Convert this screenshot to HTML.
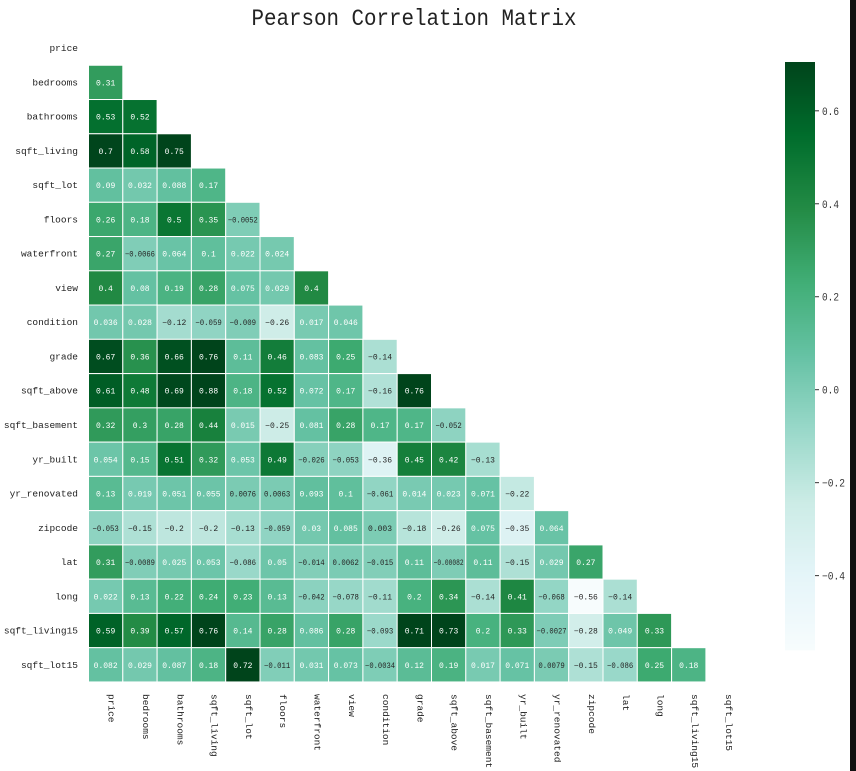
<!DOCTYPE html>
<html><head><meta charset="utf-8"><style>
html,body{margin:0;padding:0;background:#fff;width:856px;height:771px;overflow:hidden}
text{font-family:"Liberation Mono","DejaVu Sans Mono",monospace}
</style></head><body>
<svg id="chart" width="856" height="771" xmlns="http://www.w3.org/2000/svg">
<rect x="850" y="0" width="6" height="771" fill="#111"/>
<text x="414" y="25" text-anchor="middle" font-size="23" textLength="325" lengthAdjust="spacingAndGlyphs" fill="#222">Pearson Correlation Matrix</text>
<g id="cells"></g><g id="labels"></g><g id="cbar"></g>
</svg>
<script>
const categories=["price","bedrooms","bathrooms","sqft_living","sqft_lot","floors","waterfront","view","condition","grade","sqft_above","sqft_basement","yr_built","yr_renovated","zipcode","lat","long","sqft_living15","sqft_lot15"];
const lowerValues=[
[],
[0.31],
[0.53,0.52],
[0.7,0.58,0.75],
[0.09,0.032,0.088,0.17],
[0.26,0.18,0.5,0.35,-0.0052],
[0.27,-0.0066,0.064,0.1,0.022,0.024],
[0.4,0.08,0.19,0.28,0.075,0.029,0.4],
[0.036,0.028,-0.12,-0.059,-0.009,-0.26,0.017,0.046],
[0.67,0.36,0.66,0.76,0.11,0.46,0.083,0.25,-0.14],
[0.61,0.48,0.69,0.88,0.18,0.52,0.072,0.17,-0.16,0.76],
[0.32,0.3,0.28,0.44,0.015,-0.25,0.081,0.28,0.17,0.17,-0.052],
[0.054,0.15,0.51,0.32,0.053,0.49,-0.026,-0.053,-0.36,0.45,0.42,-0.13],
[0.13,0.019,0.051,0.055,0.0076,0.0063,0.093,0.1,-0.061,0.014,0.023,0.071,-0.22],
[-0.053,-0.15,-0.2,-0.2,-0.13,-0.059,0.03,0.085,0.003,-0.18,-0.26,0.075,-0.35,0.064],
[0.31,-0.0089,0.025,0.053,-0.086,0.05,-0.014,0.0062,-0.015,0.11,-0.00082,0.11,-0.15,0.029,0.27],
[0.022,0.13,0.22,0.24,0.23,0.13,-0.042,-0.078,-0.11,0.2,0.34,-0.14,0.41,-0.068,-0.56,-0.14],
[0.59,0.39,0.57,0.76,0.14,0.28,0.086,0.28,-0.093,0.71,0.73,0.2,0.33,-0.0027,-0.28,0.049,0.33],
[0.082,0.029,0.087,0.18,0.72,-0.011,0.031,0.073,-0.0034,0.12,0.19,0.017,0.071,0.0079,-0.15,-0.086,0.25,0.18]
];
const cbarTicks=[0.6,0.4,0.2,0.0,-0.2,-0.4];
const vmin=-0.56,vmax=0.705;
const NS="http://www.w3.org/2000/svg";
const gx0=88.5,gy0=31,cw=34.3,ch=34.26;
const xPos=i=>gx0+i*cw, yPos=i=>gy0+i*ch;
const stops=[[247,252,253],[229,245,249],[204,236,230],[153,216,201],[102,194,164],[65,174,118],[35,139,69],[0,109,44],[0,68,27]];
function cmap(v){let t=(v-vmin)/(vmax-vmin);t=Math.max(0,Math.min(1,t));const p=t*8,i=Math.min(7,Math.floor(p)),f=p-i;
return stops[i].map((c,k)=>Math.round(c+(stops[i+1][k]-c)*f));}
function lum(c){const l=c.map(x=>{x/=255;return x<=0.03928?x/12.92:Math.pow((x+0.055)/1.055,2.4)});return 0.2126*l[0]+0.7152*l[1]+0.0722*l[2];}
function el(tag,attrs,parent){const e=document.createElementNS(NS,tag);for(const k in attrs)e.setAttribute(k,attrs[k]);parent.appendChild(e);return e;}
const cells=document.getElementById('cells'),labels=document.getElementById('labels'),cbar=document.getElementById('cbar');
lowerValues.forEach((row,r)=>{row.forEach((v,c)=>{
 const col=cmap(v);
 const rc=el('rect',{x:xPos(c),y:yPos(r),width:cw,height:ch,fill:`rgb(${col})`,stroke:'#fff','stroke-width':1},cells);
 
 
 const s=String(v).replace('-','\u2212');
 const t=el('text',{x:xPos(c)+cw/2,y:yPos(r)+ch/2+3,'text-anchor':'middle','font-size':8,fill:lum(col)<0.5?'#fff':'#262626'},cells);
 if(s.length>5){t.setAttribute('textLength',Math.min(30,s.length*4.4));t.setAttribute('lengthAdjust','spacingAndGlyphs');}
 t.textContent=s;
 
 
});});
categories.forEach((n,i)=>{
 const t=el('text',{x:78,y:yPos(i)+ch/2+3,'text-anchor':'end','font-size':9.5,fill:'#222'},labels);
 t.textContent=n;
 
 
 const cx=xPos(i)+cw/2+3;
 const u=el('text',{x:cx,y:694,'font-size':9.5,fill:'#222',transform:`rotate(90 ${cx} 694)`},labels);
 u.textContent=n;
 
 
});
const cbTop=62,cbBot=650,cbX=785,cbW=30;
const cbY=v=>cbBot-(v-vmin)/(vmax-vmin)*(cbBot-cbTop);
for(let y=cbTop;y<cbBot;y+=2){const v=vmin+(cbBot-y-1)/(cbBot-cbTop)*(vmax-vmin);el('rect',{x:cbX,y:y,width:cbW,height:2.3,fill:`rgb(${cmap(v)})`},cbar);}
cbarTicks.forEach(v=>{const y=cbY(v);
 el('line',{x1:cbX+cbW,x2:cbX+cbW+4,y1:y,y2:y,stroke:'#333','stroke-width':1},cbar);
 const lab=(v<0?'\u22120':'0')+'.'+Math.round(Math.abs(v)*10);
 const t=el('text',{x:cbX+cbW+7,y:y+4,'font-size':11,fill:'#333',textLength:v<0?23:17,lengthAdjust:'spacingAndGlyphs'},cbar);
 t.textContent=lab;
 
 
});


</script>
</body></html>
